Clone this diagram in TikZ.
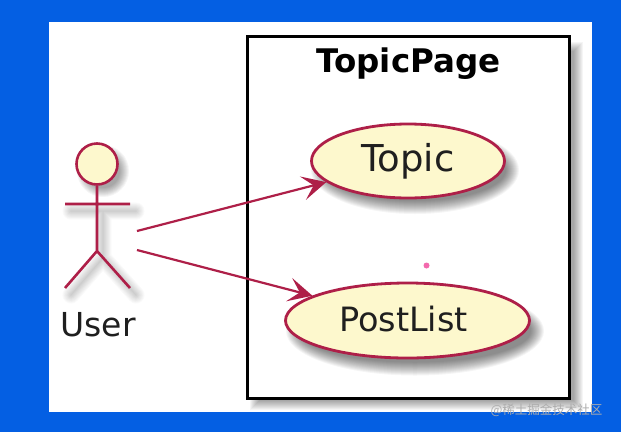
\documentclass[tikz,border=0pt]{standalone}
\usepackage{fontspec}
\setmainfont{DejaVu Sans}
\newfontfamily\cjkfont{Noto Sans CJK SC}
\usetikzlibrary{shapes.geometric,arrows.meta}
\definecolor{umlred}{HTML}{AE1F48}
\definecolor{umlfill}{HTML}{FDF8CD}
\definecolor{screenblue}{HTML}{045FE3}
\tikzset{
  x=1pt,y=-1pt,
  usecase/.style={ellipse,draw=umlred,fill=umlfill,line width=2.8pt,inner sep=0pt,text=black!88},
  actorline/.style={draw=umlred,line width=2.6pt},
  flow/.style={draw=umlred,line width=2.2pt,-{Stealth[length=24pt,width=24pt,inset=11pt]}},
  softshadow/.style={black,opacity=0.04},
  softline/.style={black,opacity=0.02,line cap=round},
}
\begin{document}
\begin{tikzpicture}
\useasboundingbox (0,0) rectangle (621,432);
\fill[screenblue] (0,0) rectangle (621,432);
\fill[white] (49,22) rectangle (592,412);
% system box shadow
\foreach \g in {0,1,...,9}
  \fill[softshadow] (250+\g,42+\g) rectangle (583-\g,410-\g);
\node[draw=black,fill=white,line width=3pt,minimum width=322pt,minimum height=362pt,inner sep=0pt,anchor=north west] (page) at (245.5,34.5) {};
\node[font=\bfseries\fontsize{32.5}{38}\selectfont,text=black] (title) at (408.5,64) {TopicPage};
% ellipse shadows
\foreach \g in {0,1,...,13} {
  \fill[softshadow] (415,170) ellipse ({97+7-\g} and {37+7-\g});
  \fill[softshadow] (415,331) ellipse ({122+7-\g} and {37.5+7-\g});
}
\node[usecase,minimum width=193pt,minimum height=74pt,font=\fontsize{37}{42}\selectfont] (topic) at (408,161) {\raisebox{1pt}{Topic}};
\node[usecase,minimum width=244pt,minimum height=75pt,font=\fontsize{33.5}{40}\selectfont] (postlist) at (407.5,320.5) {\raisebox{2.5pt}{PostList}\hspace{8pt}\mbox{}};
% actor shadow
\foreach \g in {0,1,...,9} {
  \fill[softshadow] (103,171) circle ({21+5-\g});
  \draw[softline,line width={1+1.8*\g}] (71,211) -- (136,211) (103,211) -- (103,258) -- (71,295) (103,258) -- (136,295);
}
\node[circle,draw=umlred,fill=umlfill,line width=2.6pt,minimum size=41pt,inner sep=0pt] (head) at (97,164) {};
\coordinate (hip) at (97,251);
\coordinate (armL) at (65,204);
\coordinate (armR) at (130,204);
\coordinate (footL) at (65,288);
\coordinate (footR) at (130,288);
\coordinate (from1) at (137,231);
\coordinate (from2) at (137,250);
\draw[actorline] (head.south) -- (hip) (armL) -- (armR) (footL) -- (hip) -- (footR);
\node[font=\fontsize{33}{40}\selectfont,text=black!88] (user) at (98,324.5) {User};
\draw[flow] (from1) -- (topic);
\draw[flow] (from2) -- (postlist);
\node[circle,fill=magenta!80!red,opacity=.6,minimum size=6pt,inner sep=0pt] (dot) at (426.5,265.5) {};
\node[font=\cjkfont\fontsize{12.5}{15}\selectfont,text=white!68!black,anchor=east] (mark) at (606,410) {@稀土掘金技术社区};
\end{tikzpicture}
\end{document}
